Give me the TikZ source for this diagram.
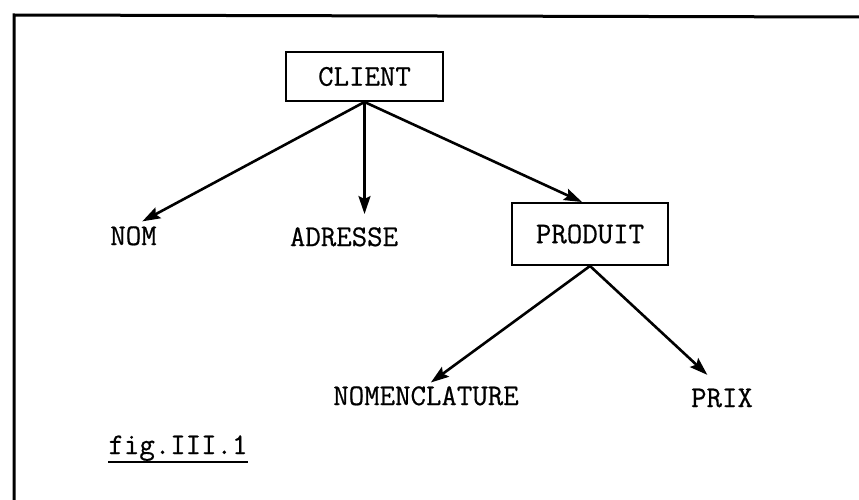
\documentclass[tikz,border=0pt]{standalone}
\usepackage{fontspec}
\setmonofont{Latin Modern Mono}[FakeBold=0.6]
\usetikzlibrary{arrows.meta,calc}
\begin{document}
\begin{tikzpicture}[x=1pt,y=-1pt,
  lbl/.style={inner sep=0pt,font=\ttfamily\fontsize{30}{32}\selectfont},
  entbox/.style={draw,line width=2pt,inner sep=0pt,font=\ttfamily\fontsize{30}{32}\selectfont},
  arr/.style={line width=2.6pt,-{Stealth[length=18pt,width=12pt,inset=3pt]}},
  frameline/.style={line width=3pt}]
\useasboundingbox (0,0) rectangle (859,500);
% frame
\coordinate (tl) at (14,15);
\coordinate (tr) at (859,17);
\coordinate (bl) at (14,500);
\draw[frameline] (tr) -- (tl) -- (bl);
% boxes
\node[entbox,minimum width=157pt,minimum height=49pt] (client) at (364.5,76.5) {CLIENT};
\node[entbox,minimum width=156pt,minimum height=62pt] (produit) at (590,234) {PRODUIT};
% labels
\node[lbl,anchor=base] (nom) at (133.5,245) {NOM};
\node[lbl,anchor=base] (adresse) at (344,246) {ADRESSE};
\node[lbl,anchor=base] (nomen) at (426,405) {NOMENCLATURE};
\node[lbl,anchor=base] (prix) at (722,407) {PRIX};
\node[lbl,anchor=base] (fig) at (178,454) {fig.III.1};
\draw[line width=1.8pt] ([yshift=-8pt]fig.base west) -- ([yshift=-8pt]fig.base east);
% connectors
\draw[arr,shorten >=10pt] (client.south) -- (nom.north);
\draw[arr,shorten >=13pt] (client.south) -- (client.south |- adresse.north);
\draw[arr] (client.south) -- ($(produit.north)+(-8,0)$);
\draw[arr,shorten >=6pt] (produit.south) -- (nomen.north);
\draw[arr,shorten >=20pt] (produit.south) -- (prix.north);
\end{tikzpicture}
\end{document}
